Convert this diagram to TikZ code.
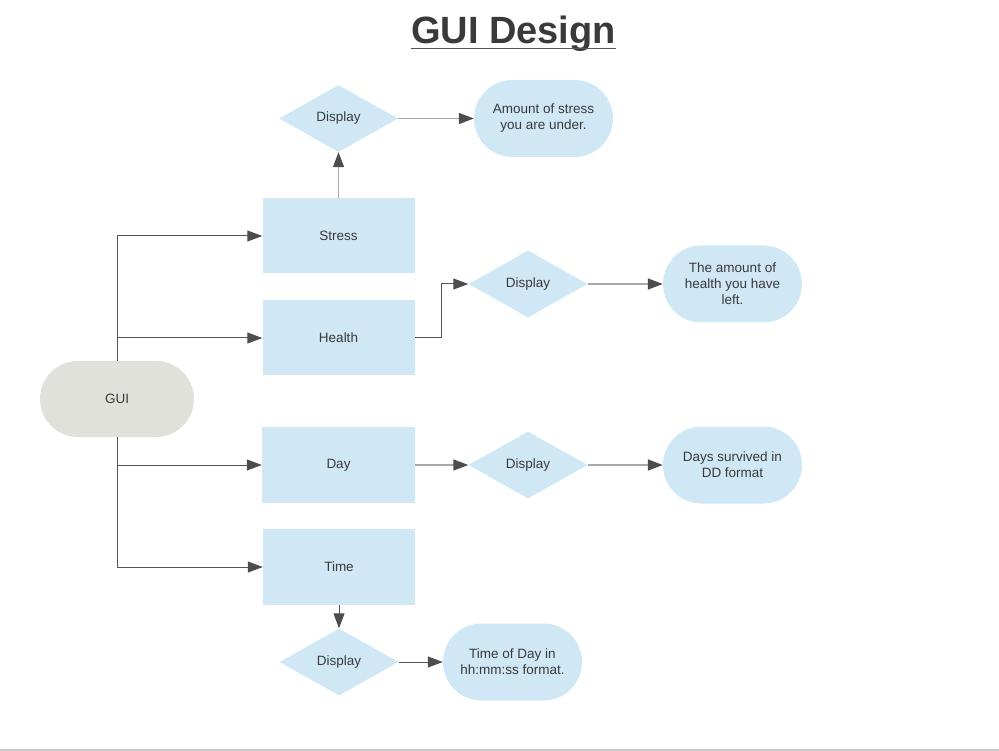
\documentclass[tikz,border=0pt]{standalone}
\usepackage{fontspec}
\setmainfont{Liberation Sans}
\usetikzlibrary{shapes.geometric,shapes.misc,arrows.meta}
\definecolor{boxblue}{HTML}{D0E7F5}
\definecolor{guigrey}{HTML}{E0E1DA}
\definecolor{txt}{HTML}{3A3A3A}
\definecolor{darkline}{HTML}{555555}
\definecolor{lightline}{HTML}{A8A8A8}
\definecolor{tipcol}{HTML}{4D4D4D}
\definecolor{pageline}{HTML}{C8C8C8}
\begin{document}
\begin{tikzpicture}[x=1pt,y=-1pt,
  lbl/.style={font=\fontsize{13.5}{16}\selectfont, text=txt, align=center},
  rectbox/.style={lbl, rectangle, fill=boxblue, minimum width=152pt, minimum height=75pt, inner sep=0pt},
  dia/.style={lbl, diamond, fill=boxblue, minimum width=119pt, minimum height=67pt, inner sep=0pt},
  pill/.style={lbl, rounded rectangle, fill=boxblue, minimum width=139pt, minimum height=77pt, inner sep=0pt},
  conn/.style={draw=darkline, line width=1pt, -{Triangle[length=15pt,width=11pt,color=tipcol]}},
  connl/.style={draw=lightline, line width=1.5pt, -{Triangle[length=15pt,width=11pt,color=tipcol]}}]
\useasboundingbox (0,0) rectangle (999,751);

% title
\node[font=\fontsize{38}{40}\selectfont\bfseries, text=txt, inner sep=0pt] (title) at (513.5,34) {GUI Design};
\draw[darkline, line width=1.5pt] ([yshift=-5pt]title.base west) -- ([yshift=-5pt]title.base east);

% nodes
\node[pill, fill=guigrey, minimum width=154pt, minimum height=76pt] (gui) at (117,399) {GUI};
\node[rectbox] (stress) at (338.5,236) {Stress};
\node[rectbox] (health) at (338.5,338) {Health};
\node[rectbox, minimum width=153pt, minimum height=76pt] (day) at (338.5,465) {Day};
\node[rectbox, minimum height=76pt] (time) at (339,567) {Time};
\node[dia] (d1) at (338.5,118.5) {Display};
\node[dia] (d2) at (528,284) {Display};
\node[dia] (d3) at (528,465) {Display};
\node[dia] (d4) at (339,662) {Display};
\node[pill] (o1) at (543.5,118.5) {Amount of stress\\you are under.};
\node[pill] (o2) at (732.5,284) {The amount of\\health you have\\left.};
\node[pill] (o3) at (732.5,465) {Days survived in\\DD format};
\node[pill] (o4) at (512.5,662) {Time of Day in\\hh:mm:ss format.};

% connectors
\draw[conn] (gui.north) |- (stress.west);
\draw[conn] (gui.north) |- (health.west);
\draw[conn] (gui.south) |- (day.west);
\draw[conn] (gui.south) |- (time.west);
\draw[connl] (stress.north) -- (d1.south);
\draw[connl] (d1.east) -- (o1.west);
\coordinate (hbend) at ([xshift=27pt]health.east);
\draw[conn] (health.east) -- (hbend) |- (d2.west);
\draw[connl] (d2.east) -- (o2.west);
\draw[connl] (day.east) -- (d3.west);
\draw[connl] (d3.east) -- (o3.west);
\draw[conn] (time.south) -- (d4.north);
\draw[conn] (d4.east) -- (o4.west);

% page edge
\draw[pageline, line width=2pt] (0,749.5) -- (999,749.5);
\end{tikzpicture}
\end{document}
